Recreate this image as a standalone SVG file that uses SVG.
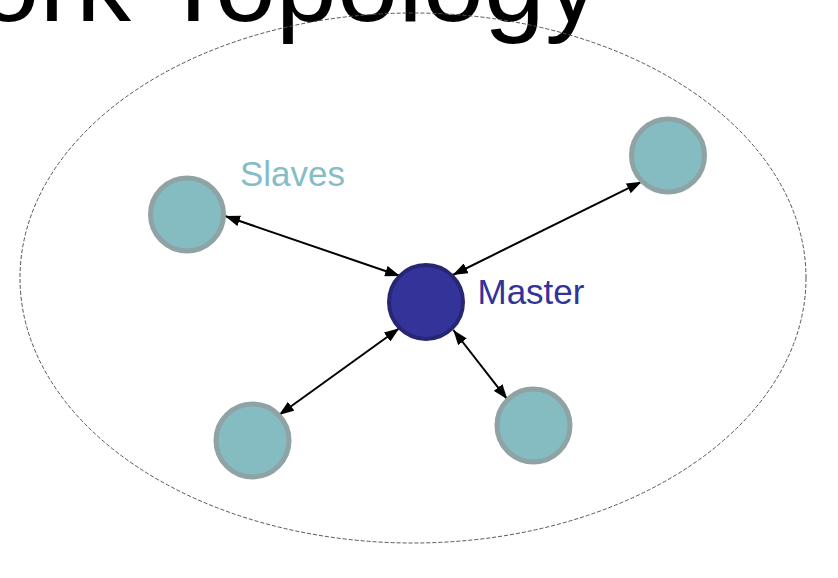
<svg xmlns="http://www.w3.org/2000/svg" width="838" height="578" viewBox="0 0 838 578">
<style>
.slave{fill:#85bcc2;stroke:#8fa2a4;stroke-width:5}
.master{fill:#333399;stroke:#262673;stroke-width:4}
.lbl{font-family:"Liberation Sans",Arial,sans-serif;font-size:35px}
.conn line{stroke:#000;stroke-width:2;marker-start:url(#ah);marker-end:url(#ah)}
</style>
<defs>
<marker id="ah" viewBox="0 0 15 11" refX="15" refY="5.5" markerWidth="15" markerHeight="11" markerUnits="userSpaceOnUse" orient="auto-start-reverse">
<path d="M0,0 L15,5.5 L0,11 z" fill="#000"/>
</marker>
</defs>
<rect width="838" height="578" fill="#fff"/>
<text x="600" y="20.5" text-anchor="end" font-family="'Liberation Sans',Arial,sans-serif" font-size="110" fill="#000">Network Topology</text>
<ellipse cx="413" cy="278" rx="393" ry="265" fill="none" stroke="#555" stroke-width="1" stroke-dasharray="4,2"/>
<g class="conn" id="connectors">
<line x1="400" y1="276" x2="225" y2="216"/>
<line x1="452.7" y1="275" x2="641.7" y2="181.7"/>
<line x1="399.3" y1="328.3" x2="279" y2="415"/>
<line x1="453.3" y1="330" x2="507.3" y2="399.3"/>
</g>
<g id="master"><circle class="master" cx="426" cy="302" r="37"/><text class="lbl" x="477.5" y="304" fill="#333399">Master</text></g>
<g id="slave1"><circle class="slave" cx="187" cy="214.5" r="36.5"/></g>
<g id="slave2"><circle class="slave" cx="668" cy="155.5" r="36.5"/></g>
<g id="slave3"><circle class="slave" cx="252.5" cy="440.5" r="36.5"/></g>
<g id="slave4"><circle class="slave" cx="533.5" cy="425.5" r="36.5"/></g>
<text id="slaves-label" class="lbl" x="240" y="186" fill="#84bcc8">Slaves</text>
</svg>
